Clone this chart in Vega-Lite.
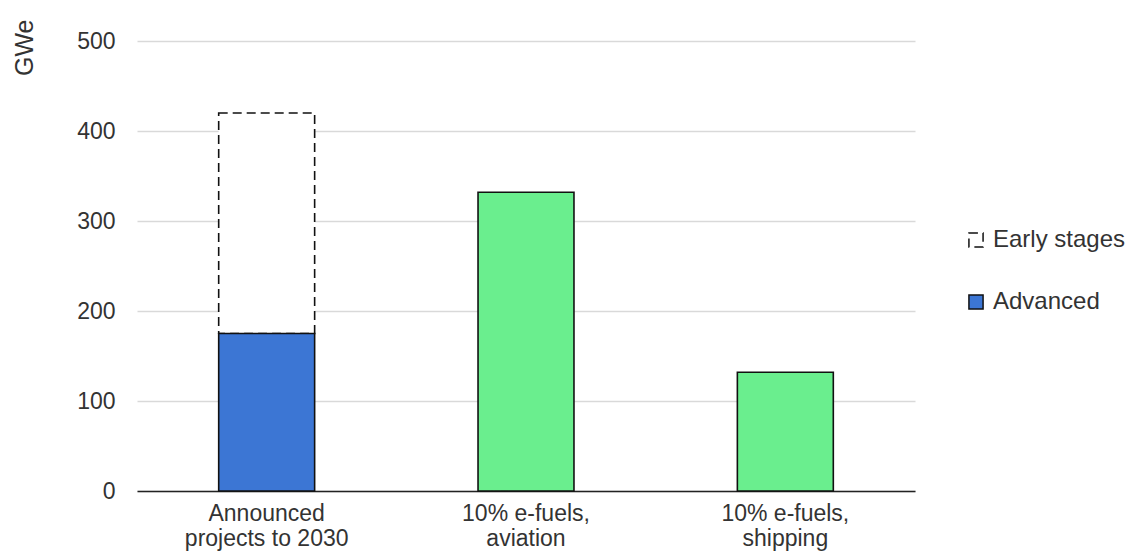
{
  "$schema": "https://vega.github.io/schema/vega-lite/v6.json",
  "autosize": "none",
  "width": 778,
  "height": 450,
  "padding": {"left": 137, "top": 41, "right": 221, "bottom": 67},
  "background": "#ffffff",
  "config": {
    "view": {"stroke": null},
    "font": "Liberation Sans"
  },
  "data": {
    "values": [
      {"category": "Announced projects to 2030", "series": "Early stages", "value": 245},
      {"category": "Announced projects to 2030", "series": "Advanced", "value": 175},
      {"category": "10% e-fuels, aviation", "series": "Requirement", "value": 332},
      {"category": "10% e-fuels, shipping", "series": "Requirement", "value": 132}
    ]
  },
  "mark": {"type": "bar", "stroke": "#111111", "strokeWidth": 1.6},
  "encoding": {
    "x": {
      "field": "category",
      "type": "nominal",
      "sort": ["Announced projects to 2030", "10% e-fuels, aviation", "10% e-fuels, shipping"],
      "scale": {"paddingInner": 0.63, "paddingOuter": 0.315},
      "axis": {
        "title": null,
        "labelAngle": 0,
        "labelFontSize": 23,
        "labelColor": "#333333",
        "labelPadding": 11,
        "labelLineHeight": 25,
        "labelExpr": "datum.value == 'Announced projects to 2030' ? ['Announced', 'projects to 2030'] : datum.value == '10% e-fuels, aviation' ? ['10% e-fuels,', 'aviation'] : ['10% e-fuels,', 'shipping']",
        "ticks": false,
        "domainColor": "#222222",
        "domainWidth": 1.6,
        "grid": false
      }
    },
    "y": {
      "field": "value",
      "type": "quantitative",
      "stack": "zero",
      "title": "GWe",
      "scale": {"domain": [0, 500]},
      "axis": {
        "titleFontSize": 25,
        "titleFontWeight": "normal",
        "titleColor": "#333333",
        "titleAnchor": "end",
        "titleX": -113,
        "titleY": -22,
        "titleAlign": "right",
        "titleBaseline": "middle",
        "values": [0, 100, 200, 300, 400, 500],
        "labelFontSize": 23,
        "labelColor": "#333333",
        "labelPadding": 22,
        "ticks": false,
        "domain": false,
        "gridColor": "#d9d9d9",
        "gridWidth": 1.6
      }
    },
    "color": {
      "field": "series",
      "type": "nominal",
      "scale": {
        "domain": ["Early stages", "Advanced", "Requirement"],
        "range": ["#ffffff", "#3c76d4", "#6aee8e"]
      },
      "legend": {
        "title": null,
        "values": ["Early stages", "Advanced"],
        "orient": "none",
        "legendX": 827,
        "legendY": 187,
        "symbolType": "square",
        "symbolSize": 200,
        "labelFontSize": 24,
        "labelColor": "#333333",
        "labelOffset": 5,
        "rowPadding": 38,
        "encode": {
          "symbols": {
            "update": {
              "stroke": {"value": "#222222"},
              "strokeWidth": {"value": 1.6},
              "strokeDash": {"signal": "datum.label == 'Early stages' ? [4, 2] : [1, 0]"}
            }
          }
        }
      }
    },
    "strokeDash": {
      "field": "series",
      "type": "nominal",
      "scale": {
        "domain": ["Early stages", "Advanced", "Requirement"],
        "range": [[9, 5], [1, 0], [1, 0]]
      },
      "legend": null
    },
    "order": {"field": "series", "sort": "ascending"}
  }
}
